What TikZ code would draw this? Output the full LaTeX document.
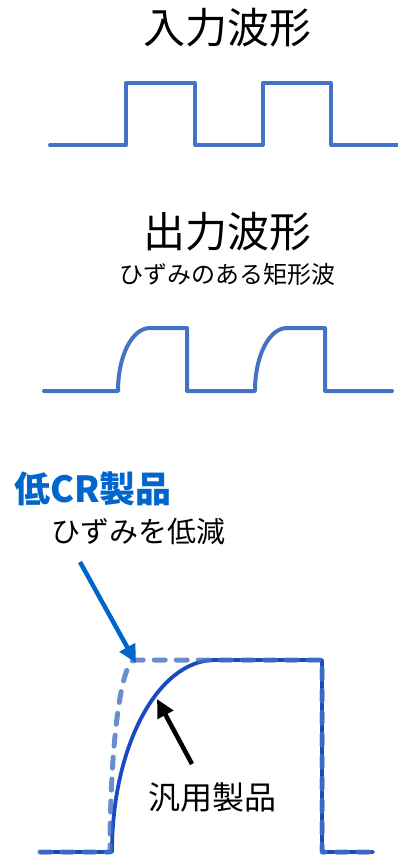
\documentclass[tikz,border=0pt]{standalone}
\usepackage{fontspec}
\setmainfont{Noto Sans CJK JP}
\usetikzlibrary{arrows.meta}
\definecolor{wave}{RGB}{68,114,196}
\definecolor{lowblue}{RGB}{0,102,204}
\definecolor{darkwave}{RGB}{25,75,190}
\tikzset{
  wavestyle/.style={draw=wave, line width=4pt, line cap=round, line join=round},
  solidwave/.style={draw=darkwave, line width=3.8pt, line cap=round, line join=round},
  dashwave/.style={draw=wave, line width=5pt, line cap=round, line join=round, draw opacity=0.8, dash pattern=on 11pt off 11pt},
  txt/.style={inner sep=0pt, text=black},
  bluearrow/.style={draw=lowblue, line width=4.5pt, -{Triangle[length=18pt,width=17pt]}},
  blackarrow/.style={draw=black, line width=4.5pt, -{Triangle[length=18pt,width=17pt]}}
}
\begin{document}
\begin{tikzpicture}[x=1pt,y=-1pt]
\useasboundingbox (0,0) rectangle (397,857);
% titles
\node[txt, font=\fontsize{42}{50}\selectfont] (intitle) at (227,28) {入力波形};
\node[txt, font=\fontsize{42}{50}\selectfont] (outtitle) at (227,232) {出力波形};
\node[txt, font=\fontsize{24}{28}\selectfont] (outsub) at (227,274) {ひずみのある矩形波};
% input waveform
\draw[wavestyle] (50,145) -- (126,145) -- (126,83) -- (195,83) -- (195,145) -- (263,145) -- (263,83) -- (331,83) -- (331,145) -- (399,145);
% output waveform
\draw[wavestyle] (44,391) -- (118,391) .. controls (118,356) and (132,328) .. (150,328) -- (187,328) -- (187,391) -- (255,391) .. controls (255,356) and (269,328) .. (287,328) -- (325,328) -- (325,391) -- (392,391);
% bottom labels
\node[txt, anchor=west, text=lowblue, font=\fontsize{36}{42}\selectfont\bfseries] (lowcr) at (14,489) {低CR製品};
\node[txt, font=\fontsize{29}{34}\selectfont] (reduce) at (138,532) {ひずみを低減};
\node[txt, font=\fontsize{32}{38}\selectfont] (generic) at (212,797) {汎用製品};
% bottom waveforms
\draw[solidwave] (40,852) -- (112,852) .. controls (112,746) and (158,660) .. (215,660) -- (322,660) -- (322,852) -- (373,852);
\draw[dashwave] (40,852) -- (110,852) .. controls (110,746) and (121,660) .. (135,660) -- (322,660) -- (322,852) -- (373,852);
% arrows
\coordinate (bstart) at (80,562);
\coordinate (btip) at (136,663);
\draw[bluearrow] (bstart) -- (btip);
\coordinate (gstart) at (192,764);
\coordinate (gtip) at (157,699);
\draw[blackarrow] (gstart) -- (gtip);
\end{tikzpicture}
\end{document}
